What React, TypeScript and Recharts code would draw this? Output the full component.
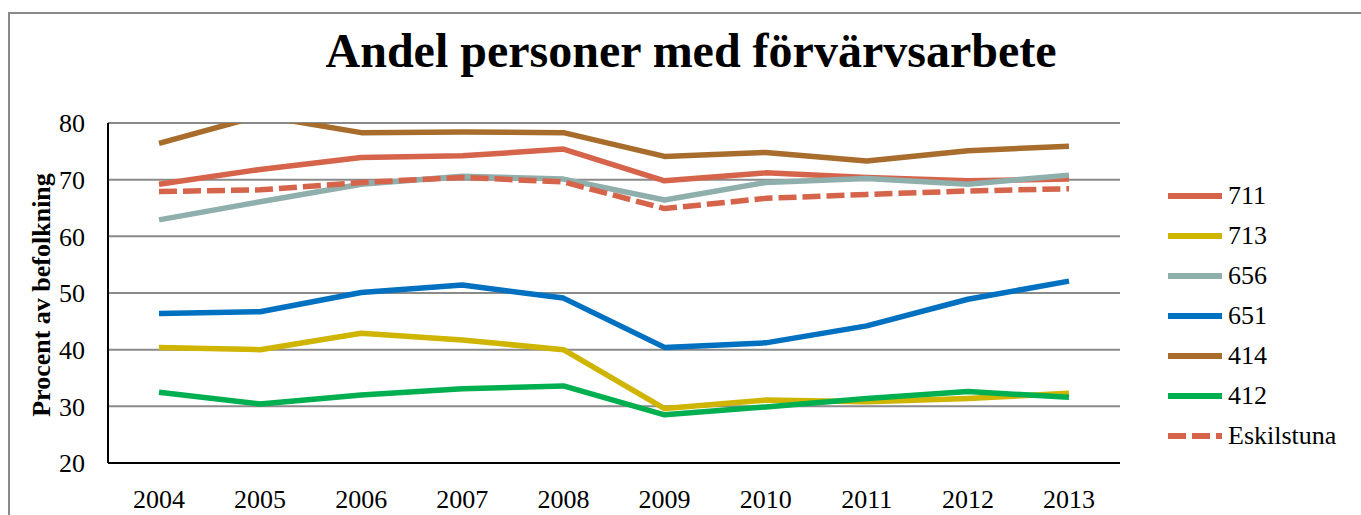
import { LineChart, Line, XAxis, YAxis, CartesianGrid } from 'recharts'

const years = ['2004', '2005', '2006', '2007', '2008', '2009', '2010', '2011', '2012', '2013']

const s711 = [69.2, 71.8, 73.9, 74.2, 75.4, 69.8, 71.2, 70.4, 69.8, 70.1]
const s713 = [40.4, 40.0, 42.9, 41.7, 40.0, 29.6, 31.1, 30.8, 31.4, 32.3]
const s656 = [62.9, 66.1, 69.2, 70.6, 70.1, 66.4, 69.5, 70.2, 69.2, 70.8]
const s651 = [46.4, 46.7, 50.1, 51.4, 49.1, 40.4, 41.2, 44.2, 48.9, 52.1]
const s414 = [76.4, 81.3, 78.3, 78.4, 78.3, 74.1, 74.8, 73.3, 75.1, 75.9]
const s412 = [32.5, 30.4, 32.0, 33.1, 33.6, 28.5, 29.9, 31.4, 32.6, 31.6]
const eskilstuna = [67.9, 68.2, 69.5, 70.4, 69.6, 64.9, 66.7, 67.4, 68.0, 68.4]

const yTicks = [20, 30, 40, 50, 60, 70, 80]

const series = [
  { key: 's711', name: '711', values: s711, color: '#D5644B', dash: undefined as string | undefined },
  { key: 's713', name: '713', values: s713, color: '#CFB400', dash: undefined },
  { key: 's656', name: '656', values: s656, color: '#8FAFAC', dash: undefined },
  { key: 's651', name: '651', values: s651, color: '#0070C0', dash: undefined },
  { key: 's414', name: '414', values: s414, color: '#A86C2C', dash: undefined },
  { key: 's412', name: '412', values: s412, color: '#00B050', dash: undefined },
  { key: 'esk', name: 'Eskilstuna', values: eskilstuna, color: '#D5644B', dash: '18 6' },
]

const data = years.map((year, i) => {
  const row: Record<string, string | number> = { year }
  series.forEach((s) => {
    row[s.key] = s.values[i]
  })
  return row
})

const font = '"Liberation Serif", "Times New Roman", serif'

export default function App() {
  return (
    <div style={{ position: 'absolute', left: 0, top: 0, width: 1361, height: 515, overflow: 'hidden', background: '#fff', fontFamily: font }}>
      {/* chart frame */}
      <div
        style={{
          position: 'absolute',
          left: 8,
          top: 12,
          width: 1400,
          height: 600,
          borderLeft: '2px solid #8a8a8a',
          borderTop: '2px solid #8a8a8a',
        }}
      />

      {/* Title */}
      <div
        style={{
          position: 'absolute',
          left: 691,
          top: 27,
          transform: 'translateX(-50%)',
          whiteSpace: 'nowrap',
          fontSize: 48,
          lineHeight: '48px',
          fontWeight: 'bold',
          color: '#000',
        }}
      >
        Andel personer med förvärvsarbete
      </div>

      <div style={{ position: 'absolute', left: 0, top: 0 }}>
        <LineChart width={1361} height={515} data={data} margin={{ top: 123, right: 241, bottom: 0, left: 0 }}>
          <CartesianGrid vertical={false} stroke="#8a8a8a" strokeWidth={2} />
          <XAxis
            dataKey="year"
            height={52}
            padding={{ left: 51, right: 51 }}
            axisLine={{ stroke: '#000', strokeWidth: 2 }}
            tickLine={false}
            tickSize={6}
            tickMargin={21}
            tick={{ fontSize: 26, fill: '#000', fontFamily: font }}
          />
          <YAxis
            width={108}
            domain={[20, 80]}
            ticks={yTicks}
            allowDataOverflow
            interval={0}
            axisLine={{ stroke: '#000', strokeWidth: 2 }}
            tickLine={false}
            tickSize={6}
            tickMargin={17}
            tick={{ fontSize: 26, fill: '#000', fontFamily: font }}
            label={{
              content: () => (
                <text
                  x={50}
                  y={295}
                  transform="rotate(-90, 50, 295)"
                  textAnchor="middle"
                  fontSize={26}
                  fontWeight="bold"
                  fontFamily={font}
                  fill="#000"
                >
                  Procent av befolkning
                </text>
              ),
            }}
          />
          {series.map((s) => (
            <Line
              key={s.key}
              dataKey={s.key}
              name={s.name}
              type="linear"
              stroke={s.color}
              strokeWidth={5.5}
              strokeDasharray={s.dash}
              strokeLinejoin="round"
              dot={false}
              activeDot={false}
              isAnimationActive={false}
            />
          ))}
        </LineChart>
      </div>

      {/* Legend */}
      <div style={{ position: 'absolute', left: 1168, top: 176 }}>
        {series.map((s) => (
          <div key={s.key} style={{ display: 'flex', alignItems: 'center', height: 40 }}>
            <svg width={54} height={8} style={{ display: 'block' }}>
              <line x1={0} y1={4} x2={54} y2={4} stroke={s.color} strokeWidth={6} strokeDasharray={s.dash} />
            </svg>
            <span style={{ marginLeft: 6, fontSize: 26, color: '#000', lineHeight: '40px' }}>{s.name}</span>
          </div>
        ))}
      </div>
    </div>
  )
}
